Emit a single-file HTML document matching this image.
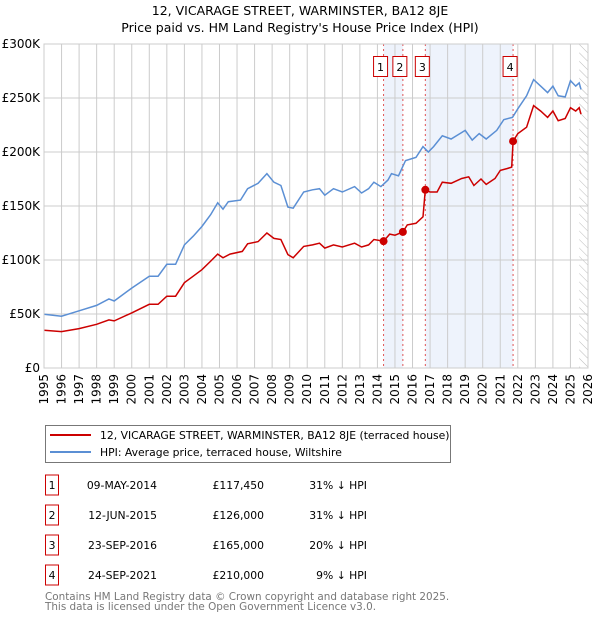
<!DOCTYPE html>
<html><head><meta charset="utf-8">
<style>
body{margin:0;background:#fff;font-family:"Liberation Sans","DejaVu Sans",sans-serif;}
#wrap{position:relative;width:600px;height:620px;overflow:hidden;}
svg text{font-family:"DejaVu Sans","Liberation Sans",sans-serif;}
</style></head>
<body>
<div id="wrap">
<svg id="chart" width="600" height="620">
<text x="300" y="15" text-anchor="middle" font-size="12.5" fill="#000">12, VICARAGE STREET, WARMINSTER, BA12 8JE</text>
<text x="300" y="32" text-anchor="middle" font-size="12.5" fill="#000">Price paid vs. HM Land Registry's House Price Index (HPI)</text>
</svg>
</div>
<script>
const yearTicks=[1995,1996,1997,1998,1999,2000,2001,2002,2003,2004,2005,2006,2007,2008,2009,2010,2011,2012,2013,2014,2015,2016,2017,2018,2019,2020,2021,2022,2023,2024,2025,2026];
const valueTicks=[0,50,100,150,200,250,300];
const valueTickLabels=["£0","£50K","£100K","£150K","£200K","£250K","£300K"];
const hpiDates=[1995,1996,1997,1998,1998.7,1999,2000,2001,2001.5,2002,2002.5,2003,2003.5,2004,2004.5,2004.9,2005.2,2005.5,2006.2,2006.6,2007.2,2007.7,2008.1,2008.5,2008.9,2009.2,2009.8,2010.3,2010.7,2011,2011.5,2012,2012.7,2013.1,2013.5,2013.8,2014.2,2014.6,2014.8,2015.2,2015.6,2016.2,2016.6,2016.9,2017.2,2017.7,2018.2,2018.7,2019.0,2019.4,2019.8,2020.2,2020.8,2021.2,2021.7,2022,2022.5,2022.9,2023.3,2023.7,2024.0,2024.3,2024.7,2025.0,2025.3,2025.5,2025.6];
const hpiValues=[49.7,48,53,58,64,62,74,85,85,96,96,114,122,131,142,153,147,154,155.5,166,171,180,172,169,149,148,163,165,166,160,166,163,168,162,166,172,168,174,180,178,192,195,205,200,205,215,212,217,220,211,217,212,220,230,232,240,252,267,261,255,261,252,251,266,261,264,258];
const paidDates=[1995,1996,1997,1998,1998.7,1999,2000,2001,2001.5,2002,2002.5,2003,2003.5,2004,2004.5,2004.9,2005.2,2005.6,2006.3,2006.6,2007.2,2007.7,2008.1,2008.5,2008.9,2009.2,2009.8,2010.3,2010.7,2011,2011.5,2012,2012.7,2013.1,2013.5,2013.8,2014.35,2014.7,2015.0,2015.45,2015.7,2016.2,2016.6,2016.73,2017.0,2017.4,2017.7,2018.2,2018.8,2019.2,2019.5,2019.9,2020.2,2020.7,2021.0,2021.4,2021.65,2021.73,2022,2022.5,2022.9,2023.3,2023.7,2024.0,2024.3,2024.7,2025.0,2025.3,2025.5,2025.6];
const paidValues=[35,33.7,36.5,40.5,44.5,43.6,51,59,59,66.5,66.5,79,85,91,99,105.5,102,105.5,108,115,117,125,120,119,105,102,112.6,114,115.6,111,114,112,115.6,112,114,119,117.45,124,123,126,132.5,134,140,165,163,163,172,171,175.5,177,169,175,170,175.5,183,184.7,186,210,217,223,243,238,232,238,229,231,241,238,241,235];
const saleLabels=["1","2","3","4"];
const saleDates=[2014.35,2015.45,2016.73,2021.73];
const saleValues=[117.45,126,165,210];
const saleDateText=["09-MAY-2014","12-JUN-2015","23-SEP-2016","24-SEP-2021"];
const salePriceText=["£117,450","£126,000","£165,000","£210,000"];
const saleHpiText=["31% ↓ HPI","31% ↓ HPI","20% ↓ HPI","9% ↓ HPI"];

const L=44,R=588,T=44,B=368;
const x=d=>L+(d-1995)/(2026-1995)*(R-L);
const y=v=>B-v/300*(B-T);
const svg=document.getElementById('chart');
const NS='http://www.w3.org/2000/svg';
function mk(tag,attrs,parent){const e=document.createElementNS(NS,tag);for(const k in attrs)e.setAttribute(k,attrs[k]);(parent||svg).appendChild(e);return e;}

let s1=mk('rect',{x:x(saleDates[0]),y:T,width:x(saleDates[1])-x(saleDates[0]),height:B-T,fill:'#eef3fc'});


let s2=mk('rect',{x:x(saleDates[2]),y:T,width:x(saleDates[3])-x(saleDates[2]),height:B-T,fill:'#eef3fc'});


const defs=mk('defs',{});
const pat=mk('pattern',{id:'hatch',width:6,height:6,patternUnits:'userSpaceOnUse',patternTransform:'rotate(-45)'},defs);
mk('line',{x1:0,y1:0,x2:0,y2:6,stroke:'#bbb','stroke-width':1},pat);
let h=mk('rect',{x:x(2025.5),y:T,width:R-x(2025.5),height:B-T,fill:'url(#hatch)'});



yearTicks.forEach(t=>{
  let g=mk('line',{x1:x(t),x2:x(t),y1:T,y2:B,stroke:'#ccc','stroke-width':1});
  
  
  let lb=mk('text',{x:0,y:0,'font-size':12,fill:'#000','text-anchor':'end',transform:`translate(${x(t)+4},${B+6}) rotate(-90)`});
  lb.textContent=t;
  
  
});
valueTicks.forEach((v,i)=>{
  let g=mk('line',{x1:L,x2:R,y1:y(v),y2:y(v),stroke:'#ccc','stroke-width':1});
  
  
  let lb=mk('text',{x:L-4,y:y(v)+4,'font-size':12,fill:'#000','text-anchor':'end'});
  lb.textContent=valueTickLabels[i];
  
  
});
saleDates.forEach((d,i)=>{
  let vl=mk('line',{x1:x(d),x2:x(d),y1:T,y2:B,stroke:'#e05555','stroke-width':1,'stroke-dasharray':'2,3'});
  
  
  const bx=x(d)-10;
  let r=mk('rect',{x:bx,y:56.5,width:14,height:20,fill:'#fff',stroke:'#cc0000','stroke-width':1});
  
  
  let t=mk('text',{x:bx+7,y:71,'font-size':11,'text-anchor':'middle',fill:'#000'});
  t.textContent=saleLabels[i];
  
  
});
const pts=(ds,vs)=>ds.map((d,i)=>x(d).toFixed(1)+','+y(vs[i]).toFixed(1)).join(' ');
let hp=mk('polyline',{points:pts(hpiDates,hpiValues),fill:'none',stroke:'#5b8fd4','stroke-width':1.5});


let pp=mk('polyline',{points:pts(paidDates,paidValues),fill:'none',stroke:'#cc0000','stroke-width':1.5});


saleDates.forEach((d,i)=>{
  let c=mk('circle',{cx:x(d),cy:y(saleValues[i]),r:4,fill:'#cc0000'});
  
  
});
let ax=mk('rect',{x:L,y:T,width:R-L,height:B-T,fill:'none',stroke:'#ccc'});



let lg=mk('rect',{x:45.5,y:425.5,width:405,height:37,fill:'#fff',stroke:'#777'});


let l1=mk('line',{x1:50,x2:91,y1:435,y2:435,stroke:'#cc0000','stroke-width':2});


let t1=mk('text',{x:100,y:439,'font-size':10.8,fill:'#000'});t1.textContent='12, VICARAGE STREET, WARMINSTER, BA12 8JE (terraced house)';


let l2=mk('line',{x1:50,x2:91,y1:452,y2:452,stroke:'#5b8fd4','stroke-width':2});


let t2=mk('text',{x:100,y:456,'font-size':10.8,fill:'#000'});t2.textContent='HPI: Average price, terraced house, Wiltshire';



saleLabels.forEach((lbl,i)=>{
  const ry=475+i*30;
  let b=mk('rect',{x:45.5,y:ry,width:13,height:20,fill:'#fff',stroke:'#cc0000'});
  
  
  const cells=[[52,'middle',lbl,'table-index'],[157,'end',saleDateText[i],'table-date'],[264,'end',salePriceText[i],'table-price'],[367,'end',saleHpiText[i],'table-hpi-diff']];
  cells.forEach(c=>{
    let t=mk('text',{x:c[0],y:ry+14,'font-size':10.8,'text-anchor':c[1],fill:'#000'});
    t.textContent=c[2];
    
    
  });
});
let f1=mk('text',{x:45,y:600,'font-size':10.4,fill:'#777'});f1.textContent='Contains HM Land Registry data © Crown copyright and database right 2025.';


let f2=mk('text',{x:45,y:610,'font-size':10.4,fill:'#777'});f2.textContent='This data is licensed under the Open Government Licence v3.0.';


</script>
</body></html>
